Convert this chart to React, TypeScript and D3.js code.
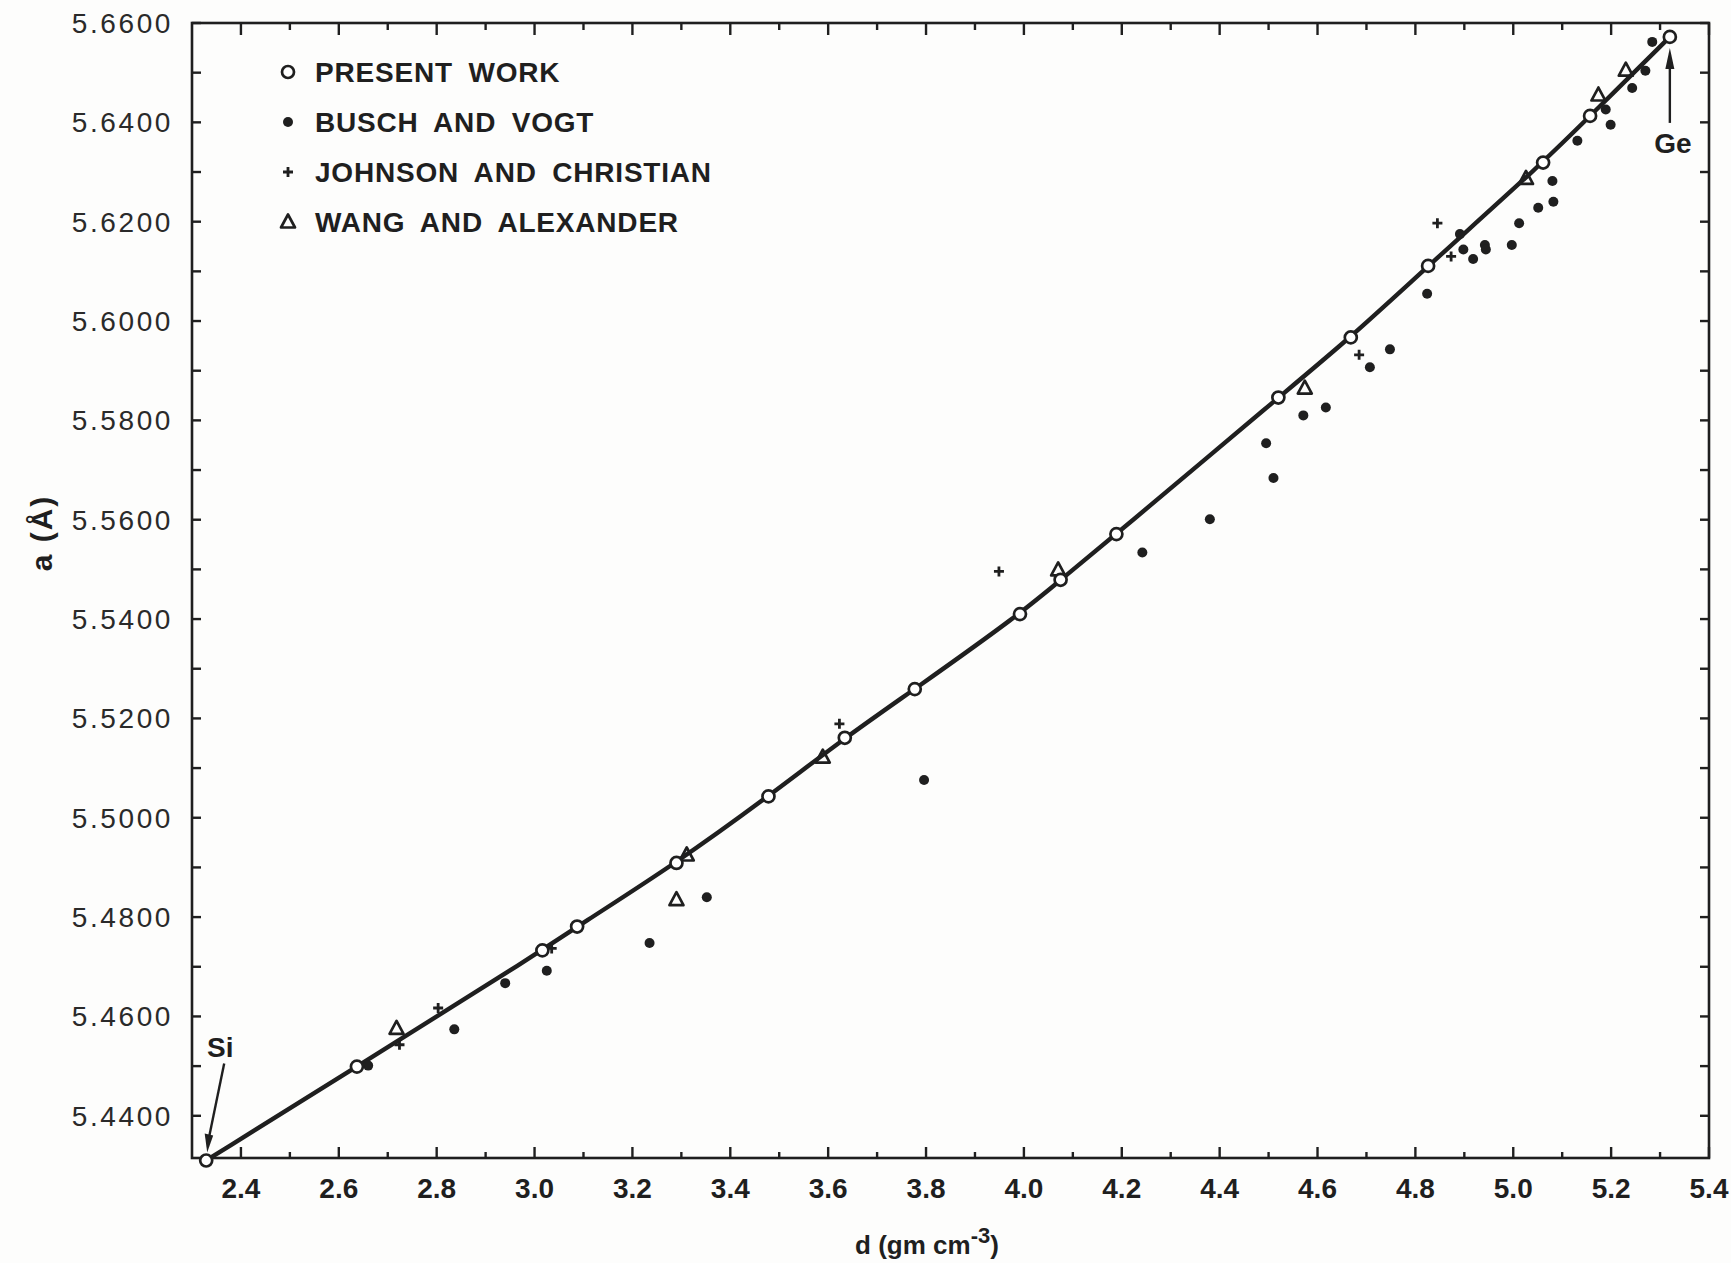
import React from 'react';
import * as d3 from 'd3';

const W = 1731;
const H = 1263;
const box = { left: 192, right: 1709, top: 23, bottom: 1158 };
const INK = '#1f1f1f';

// d (gm cm-3) vs a (angstrom)
const presentWork = [
  { d: 2.329, a: 5.4310 }, { d: 2.637, a: 5.4499 }, { d: 3.016, a: 5.4733 },
  { d: 3.087, a: 5.4781 }, { d: 3.290, a: 5.4909 }, { d: 3.478, a: 5.5043 },
  { d: 3.634, a: 5.5161 }, { d: 3.777, a: 5.5259 }, { d: 3.992, a: 5.5410 },
  { d: 4.075, a: 5.5479 }, { d: 4.189, a: 5.5571 }, { d: 4.520, a: 5.5846 },
  { d: 4.668, a: 5.5967 }, { d: 4.826, a: 5.6111 }, { d: 5.061, a: 5.6319 },
  { d: 5.157, a: 5.6413 }, { d: 5.320, a: 5.6572 },
];

const buschVogt = [
  { d: 2.660, a: 5.4501 }, { d: 2.836, a: 5.4574 }, { d: 2.940, a: 5.4667 },
  { d: 3.025, a: 5.4692 }, { d: 3.235, a: 5.4748 }, { d: 3.352, a: 5.4840 },
  { d: 3.796, a: 5.5076 }, { d: 4.242, a: 5.5534 }, { d: 4.380, a: 5.5601 },
  { d: 4.495, a: 5.5754 }, { d: 4.510, a: 5.5684 }, { d: 4.571, a: 5.5810 },
  { d: 4.617, a: 5.5826 }, { d: 4.707, a: 5.5907 }, { d: 4.748, a: 5.5943 },
  { d: 4.824, a: 5.6055 }, { d: 4.891, a: 5.6175 }, { d: 4.898, a: 5.6144 },
  { d: 4.918, a: 5.6125 }, { d: 4.942, a: 5.6153 }, { d: 4.944, a: 5.6144 },
  { d: 4.997, a: 5.6153 }, { d: 5.012, a: 5.6197 }, { d: 5.051, a: 5.6228 },
  { d: 5.080, a: 5.6282 }, { d: 5.082, a: 5.6240 }, { d: 5.131, a: 5.6363 },
  { d: 5.189, a: 5.6426 }, { d: 5.199, a: 5.6395 }, { d: 5.243, a: 5.6469 },
  { d: 5.270, a: 5.6504 }, { d: 5.284, a: 5.6562 },
];

const johnsonChristian = [
  { d: 2.724, a: 5.4543 }, { d: 2.803, a: 5.4617 }, { d: 3.035, a: 5.4737 },
  { d: 3.623, a: 5.5189 }, { d: 3.949, a: 5.5496 }, { d: 4.685, a: 5.5932 },
  { d: 4.845, a: 5.6197 }, { d: 4.873, a: 5.6130 },
];

const wangAlexander = [
  { d: 2.718, a: 5.4576 }, { d: 3.290, a: 5.4835 }, { d: 3.311, a: 5.4925 },
  { d: 3.589, a: 5.5122 }, { d: 4.070, a: 5.5499 }, { d: 4.574, a: 5.5865 },
  { d: 5.026, a: 5.6287 }, { d: 5.174, a: 5.6455 }, { d: 5.230, a: 5.6505 },
];

const xMajorTicks = [2.4, 2.6, 2.8, 3.0, 3.2, 3.4, 3.6, 3.8, 4.0, 4.2, 4.4, 4.6, 4.8, 5.0, 5.2, 5.4];
const xMinorTicks = [2.5, 2.7, 2.9, 3.1, 3.3, 3.5, 3.7, 3.9, 4.1, 4.3, 4.5, 4.7, 4.9, 5.1, 5.3];
const yLabelTicks = [5.44, 5.46, 5.48, 5.50, 5.52, 5.54, 5.56, 5.58, 5.60, 5.62, 5.64, 5.66];
const yMinorTicks = [5.45, 5.47, 5.49, 5.51, 5.53, 5.55, 5.57, 5.59, 5.61, 5.63, 5.65];

const legendLabels = ['PRESENT WORK', 'BUSCH AND VOGT', 'JOHNSON AND CHRISTIAN', 'WANG AND ALEXANDER'];

const x = d3.scaleLinear().domain([2.3, 5.4]).range([box.left, box.right]);
const y = d3.scaleLinear().domain([5.4315, 5.66]).range([box.bottom, box.top]);

const FONT = 'Liberation Sans, Arial, sans-serif';

const Circle = ({ cx, cy }) => <circle cx={cx} cy={cy} r={6} fill="#fff" stroke={INK} strokeWidth={2.7} />;
const Dot = ({ cx, cy }) => <circle cx={cx} cy={cy} r={5} fill={INK} />;
const Cross = ({ cx, cy }) => (
  <path d={`M${cx - 5},${cy}H${cx + 5}M${cx},${cy - 5}V${cy + 5}`} stroke={INK} strokeWidth={2.8} fill="none" />
);
const Tri = ({ cx, cy }) => (
  <path d={`M${cx},${cy - 7.5}L${cx + 7},${cy + 5.5}L${cx - 7},${cy + 5.5}Z`} stroke={INK} strokeWidth={2.7} fill="none" strokeLinejoin="round" />
);

const legendMarkers = [Circle, Dot, Cross, Tri];

export default function App() {
  const curve = d3.line<any>().x(p => x(p.d)).y(p => y(p.a)).curve(d3.curveBasis)(presentWork);
  const si = presentWork[0];
  const ge = presentWork[presentWork.length - 1];
  const sx = x(si.d), sy = y(si.a);
  const gx = x(ge.d), gy = y(ge.a);
  const fmtY = d3.format('.4f');

  return (
    <svg width={W} height={H} style={{ position: 'absolute', left: 0, top: 0, background: '#fdfdfc' }}>
      <rect x={0} y={0} width={W} height={H} fill="#fdfdfc" />
      {/* frame */}
      <rect x={box.left} y={box.top} width={box.right - box.left} height={box.bottom - box.top}
        fill="none" stroke={INK} strokeWidth={2.6} />

      {/* x ticks bottom and top */}
      {xMajorTicks.map(t => (
        <g key={'xm' + t}>
          <line x1={x(t)} x2={x(t)} y1={box.bottom} y2={box.bottom - 11} stroke={INK} strokeWidth={2.4} />
          <line x1={x(t)} x2={x(t)} y1={box.top} y2={box.top + 12} stroke={INK} strokeWidth={2.4} />
          <text x={x(t)} y={1198} textAnchor="middle" fontFamily={FONT}
            fontWeight="bold" fontSize={28} fill={INK}>{t.toFixed(1)}</text>
        </g>
      ))}
      {xMinorTicks.map(t => (
        <g key={'xn' + t}>
          <line x1={x(t)} x2={x(t)} y1={box.bottom} y2={box.bottom - 6} stroke={INK} strokeWidth={2.4} />
          <line x1={x(t)} x2={x(t)} y1={box.top} y2={box.top + 7} stroke={INK} strokeWidth={2.4} />
        </g>
      ))}

      {/* y ticks left and right */}
      {[...yLabelTicks, ...yMinorTicks].map(t => (
        <g key={'y' + t}>
          <line x1={box.left} x2={box.left + 9} y1={y(t)} y2={y(t)} stroke={INK} strokeWidth={2.4} />
          <line x1={box.right} x2={box.right - 9} y1={y(t)} y2={y(t)} stroke={INK} strokeWidth={2.4} />
        </g>
      ))}
      {yLabelTicks.map(t => (
        <text key={'yl' + t} x={173} y={y(t) + 10} textAnchor="end" fontFamily={FONT}
          fontSize={28} letterSpacing={2.6} fill="#2a2a2a">{fmtY(t)}</text>
      ))}

      {/* axis titles */}
      <text x={927} y={1254} textAnchor="middle" fontFamily={FONT}
        fontWeight="bold" fontSize={26} fill={INK}>
        d (gm cm<tspan dy={-11} fontSize={22}>-3</tspan><tspan dy={11}>)</tspan>
      </text>
      <text transform={`translate(52,533) rotate(-90)`} textAnchor="middle"
        fontFamily={FONT} fontWeight="bold" fontSize={30} letterSpacing={2} fill={INK}>
        a (Å)
      </text>

      {/* fitted curve */}
      <path d={curve || ''} fill="none" stroke={INK} strokeWidth={4.4} strokeLinecap="round" />

      {/* data */}
      {wangAlexander.map((p, i) => <Tri key={'w' + i} cx={x(p.d)} cy={y(p.a)} />)}
      {johnsonChristian.map((p, i) => <Cross key={'j' + i} cx={x(p.d)} cy={y(p.a)} />)}
      {buschVogt.map((p, i) => <Dot key={'b' + i} cx={x(p.d)} cy={y(p.a)} />)}
      {presentWork.map((p, i) => <Circle key={'p' + i} cx={x(p.d)} cy={y(p.a)} />)}

      {/* Si annotation */}
      <line x1={sx + 18} y1={sy - 97} x2={sx + 3} y2={sy - 24} stroke={INK} strokeWidth={2.4} />
      <path d={`M${sx + 1},${sy - 8}L${sx - 1.5},${sy - 27}L${sx + 7},${sy - 25}Z`} fill={INK} />
      <text x={sx + 14} y={sy - 103} textAnchor="middle" fontFamily={FONT}
        fontWeight="bold" fontSize={28} fill={INK}>Si</text>

      {/* Ge annotation */}
      <line x1={gx} y1={gy + 86} x2={gx} y2={gy + 28} stroke={INK} strokeWidth={2.4} />
      <path d={`M${gx},${gy + 11}L${gx - 4.5},${gy + 32}L${gx + 4.5},${gy + 32}Z`} fill={INK} />
      <text x={gx + 3} y={gy + 116} textAnchor="middle" fontFamily={FONT}
        fontWeight="bold" fontSize={28} fill={INK}>Ge</text>

      {/* legend */}
      {legendLabels.map((label, i) => {
        const M = legendMarkers[i];
        const cy = 72 + i * 50;
        return (
          <g key={label}>
            <M cx={288} cy={cy} />
            <text x={315} y={cy + 10} fontFamily={FONT} fontWeight="bold"
              fontSize={28} letterSpacing={0.8} wordSpacing={7} fill={INK}>{label}</text>
          </g>
        );
      })}
    </svg>
  );
}
